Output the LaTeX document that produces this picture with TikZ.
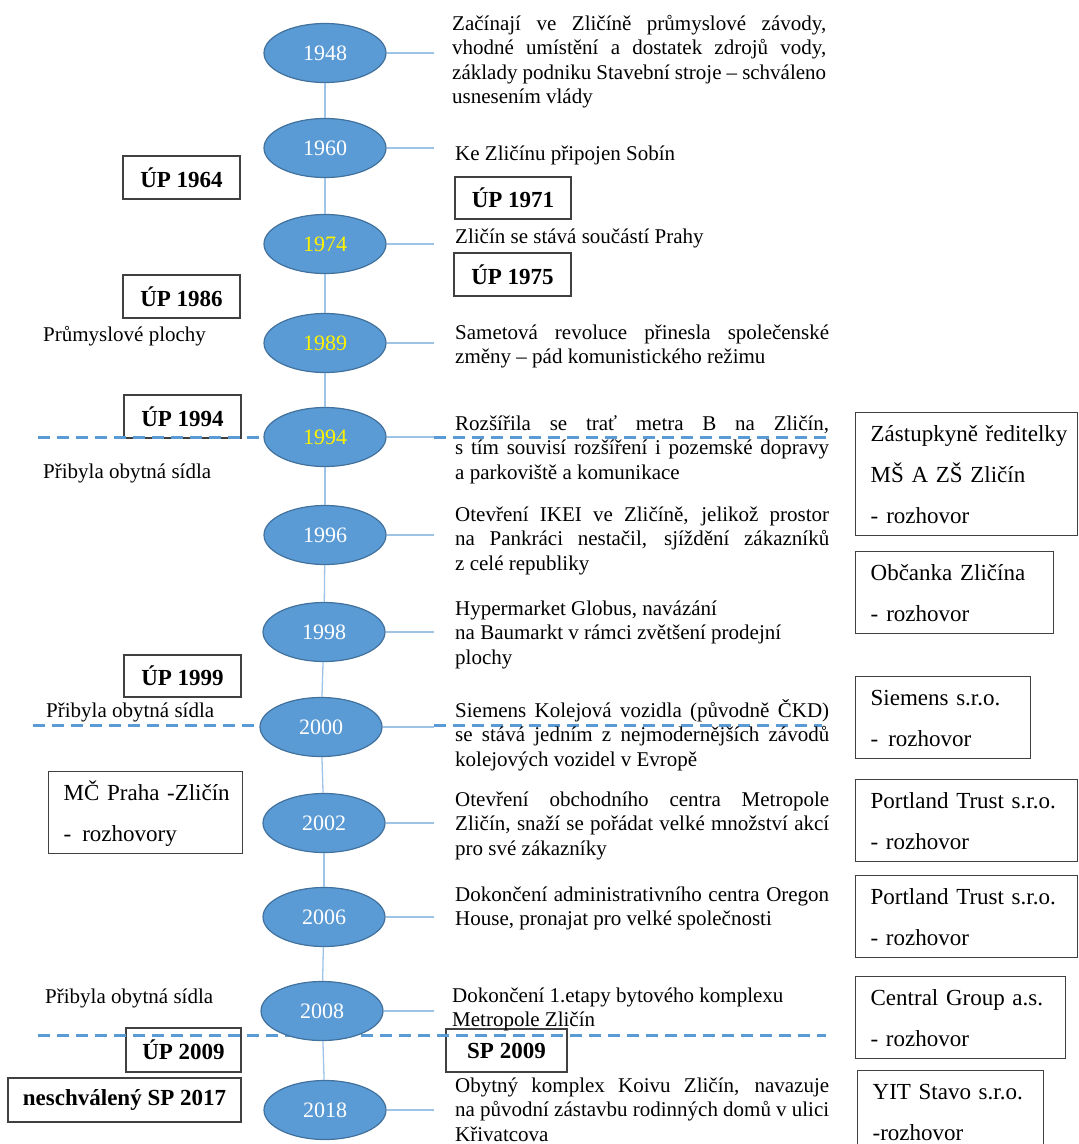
\documentclass[tikz,border=0pt]{standalone}
\usepackage{fontspec}
\setmainfont{Liberation Serif}
\usetikzlibrary{shapes.geometric}
\definecolor{yearblue}{HTML}{5B9BD5}
\definecolor{yearedge}{HTML}{41719C}
\definecolor{stemblue}{HTML}{9DC3E6}
\definecolor{boxedge}{HTML}{404040}
\newcommand{\jl}[1]{\makebox[\linewidth][s]{\spaceskip=0pt\relax\xspaceskip=0pt\relax#1}}
\tikzset{
	year/.style={ellipse, draw=yearedge, line width=1.2pt, fill=yearblue, minimum width=122pt, minimum height=59pt, inner sep=0pt, font=\fontsize{22}{26}\selectfont},
	stem/.style={draw=stemblue, line width=1.3pt},
	sepline/.style={draw=yearblue, line width=3pt, dash pattern=on 12pt off 7pt},
	event/.style={anchor=base west, inner sep=0pt, text width=374pt, align=justify, font=\fontsize{21}{24.5}\selectfont},
	note/.style={anchor=base west, inner sep=0pt, font=\fontsize{21}{24.5}\selectfont},
	plan/.style={draw=boxedge, line width=1.3pt, fill=white, inner sep=0pt, font=\fontsize{23}{27}\selectfont\bfseries},
	talk/.style={draw=boxedge, line width=1.3pt, fill=white, anchor=north west, inner xsep=15pt, inner ysep=0pt, align=left, font=\fontsize{23}{41}\selectfont}
}

\begin{document}
\begin{tikzpicture}[x=1pt, y=-1pt]
			%%%%% START %%%%%
			\useasboundingbox (0,0) rectangle (1079,1144);
			\clip (0,0) rectangle (1079,1144);
			\coordinate (stub) at (434,0);

			% plans on the left and in the middle
			\node[plan, minimum width=117pt, minimum height=43pt] (up1964) at (181.5,177.5) {ÚP 1964};
			\node[plan, minimum width=116pt, minimum height=42pt] (up1971) at (513,198) {ÚP 1971};
			\node[plan, minimum width=117pt, minimum height=43pt] (up1975) at (512.5,274.5) {ÚP 1975};
			\node[plan, minimum width=117pt, minimum height=43pt] (up1986) at (181.5,296.5) {ÚP 1986};
			\node[plan, minimum width=117pt, minimum height=43pt] (up1994) at (182.5,416.5) {ÚP 1994};
			\node[plan, minimum width=117pt, minimum height=42pt] (up1999) at (182.5,676) {ÚP 1999};
			\node[plan, minimum width=115pt, minimum height=44pt] (up2009) at (183.5,1050) {ÚP 2009};
			\node[plan, minimum width=121pt, minimum height=43pt] (sp2009) at (506.5,1050.5) {SP 2009};
			\node[plan, minimum width=233pt, minimum height=44pt] (sp2017) at (124.5,1100) {neschválený SP 2017};

			% interviews
			\node[talk, minimum width=222pt, minimum height=120pt, text width=192pt] (zast) at (855,412) {\strut\mbox{Zástupkyně ředitelky}\\\mbox{MŠ A ZŠ Zličín}\\-\hspace{8pt}rozhovor\strut};
			\node[talk, minimum width=198pt, minimum height=80pt, text width=168pt] (obcanka) at (855,551) {\strut\mbox{Občanka Zličína}\\-\hspace{8pt}rozhovor\strut};
			\node[talk, minimum width=175pt, minimum height=79pt, text width=145pt] (siemens) at (855,676) {\strut\mbox{Siemens s.r.o.}\\-\hspace{10pt}rozhovor\strut};
			\node[talk, minimum width=194pt, minimum height=81pt, text width=164pt] (mc) at (48,771) {\strut\mbox{MČ Praha -Zličín}\\-\hspace{11pt}rozhovory\strut};
			\node[talk, minimum width=222pt, minimum height=81pt, text width=192pt] (portA) at (855,779) {\strut\mbox{Portland Trust s.r.o.}\\- rozhovor\strut};
			\node[talk, minimum width=222pt, minimum height=81pt, text width=192pt] (portB) at (855,875) {\strut\mbox{Portland Trust s.r.o.}\\- rozhovor\strut};
			\node[talk, minimum width=210pt, minimum height=81pt, text width=180pt] (central) at (855,976) {\strut\mbox{Central Group a.s.}\\- rozhovor\strut};
			\node[talk, minimum width=186pt, minimum height=80pt, text width=156pt] (yit) at (857,1070) {\strut\mbox{YIT Stavo s.r.o.}\\-rozhovor\strut};

			% notes on the left
			\node[note] (prum) at (43,341) {Průmyslové plochy};
			\node[note] (pribA) at (43,478) {Přibyla obytná sídla};
			\node[note] (pribB) at (46,717) {Přibyla obytná sídla};
			\node[note] (pribC) at (45,1003) {Přibyla obytná sídla};

			% dashed borders
			\draw[sepline] (38,437) -- (300,437);
			\draw[sepline] (434,437) -- (832,437);
			\draw[sepline] (33,725) -- (300,725);
			\draw[sepline] (434,725) -- (822,725);
			\draw[sepline] (38,1035) -- (826,1035);

			% years
			\foreach \yr/\cx/\cy/\tc in {1948/325/53/white, 1960/325/148/white, 1974/325/244/yellow, 1989/325/343/yellow, 1994/325/437/yellow, 1996/325/535/white, 1998/324/632/white, 2000/321/727/white, 2002/324/823/white, 2006/324/917/white, 2008/322/1011/white, 2018/325/1110/white}
				\node[year, text=\tc] (y\yr) at (\cx,\cy) {\yr};

			\foreach \a/\b in {1948/1960, 1960/1974, 1974/1989, 1989/1994, 1994/1996, 1996/1998, 1998/2000, 2000/2002, 2002/2006, 2006/2008, 2008/2018}
				\draw[stem] (y\a) -- (y\b);
			\foreach \yr in {1948, 1960, 1974, 1989, 1994, 1996, 1998, 2000, 2002, 2006, 2008, 2018}
				\draw[stem] (y\yr) -- (y\yr -| stub);

			% events
			\node[event] (t1948) at (452,30) {\jl{Začínají ve Zličíně průmyslové závody,}\\\jl{vhodné umístění a dostatek zdrojů vody,}\\\jl{základy podniku Stavební stroje – schváleno}\\usnesením vlády};
			\node[event] (t1960) at (455,160) {Ke Zličínu připojen Sobín};
			\node[event] (t1974) at (455,243) {Zličín se stává součástí Prahy};
			\node[event] (t1989) at (455,339) {\jl{Sametová revoluce přinesla společenské}\\změny – pád komunistického režimu};
			\node[event] (t1994) at (455,430) {\jl{Rozšířila se trať metra B na Zličín,}\\\jl{s tím souvisí rozšíření i pozemské dopravy}\\a parkoviště a komunikace};
			\node[event] (t1996) at (455,521) {\jl{Otevření IKEI ve Zličíně, jelikož prostor}\\\jl{na Pankráci nestačil, sjíždění zákazníků}\\z celé republiky};
			\node[event] (t1998) at (455,615) {Hypermarket Globus, navázání\\na Baumarkt v rámci zvětšení prodejní\\plochy};
			\node[event] (t2000) at (455,717) {\jl{Siemens Kolejová vozidla (původně ČKD)}\\\jl{se stává jedním z nejmodernějších závodů}\\kolejových vozidel v Evropě};
			\node[event] (t2002) at (455,806) {\jl{Otevření obchodního centra Metropole}\\\jl{Zličín, snaží se pořádat velké množství akcí}\\pro své zákazníky};
			\node[event] (t2006) at (455,901) {\jl{Dokončení administrativního centra Oregon}\\House, pronajat pro velké společnosti};
			\node[event] (t2008) at (452,1002) {Dokončení 1.etapy bytového komplexu\\Metropole Zličín};
			\node[event] (t2018) at (455,1092) {\jl{Obytný komplex Koivu Zličín, navazuje}\\\jl{na původní zástavbu rodinných domů v ulici}\\Křivatcova};
			%%%%% END %%%%%
\end{tikzpicture}
\end{document}
